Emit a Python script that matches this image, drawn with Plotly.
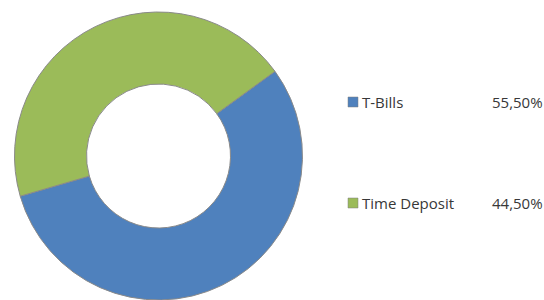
import plotly.graph_objects as go

labels = ["T-Bills", "Time Deposit"]
values = [55.50, 44.50]
colors = ["#4F81BD", "#9BBB59"]

fig = go.Figure()
fig.add_trace(go.Pie(
    labels=labels, values=values, hole=0.5, sort=False,
    direction="clockwise", rotation=54,
    marker=dict(colors=colors, line=dict(color="#8a8a8a", width=1)),
    textinfo="none", hoverinfo="label+percent", showlegend=False,
    domain=dict(x=[14/544, 303/544], y=[0, 0.96]),
))

W, H = 544, 300
row_y = [102, 203]
for lab, val, col, y in zip(labels, values, colors, row_y):
    fig.add_shape(type="rect", xref="paper", yref="paper",
                  x0=348/W, x1=358/W, y0=(H-y-5)/H, y1=(H-y+5)/H,
                  fillcolor=col, line=dict(color="#7f7f7f", width=0.5))
    fig.add_annotation(xref="paper", yref="paper", x=360/W, y=(H-y)/H,
                       text=lab, showarrow=False, xanchor="left", yanchor="middle",
                       font=dict(family="Open Sans", size=15, color="#383838"))
    fig.add_annotation(xref="paper", yref="paper", x=545/W, y=(H-y)/H,
                       text=f"{val:.2f}".replace(".", ",") + "%", showarrow=False,
                       xanchor="right", yanchor="middle",
                       font=dict(family="Open Sans", size=15, color="#383838"))

fig.update_layout(width=W, height=H, margin=dict(l=0, r=0, t=0, b=0),
                  paper_bgcolor="white", plot_bgcolor="white")
fig.write_html("out.html", config={"displayModeBar": False},
               post_script="document.body.style.margin='0';document.body.style.padding='0';")
